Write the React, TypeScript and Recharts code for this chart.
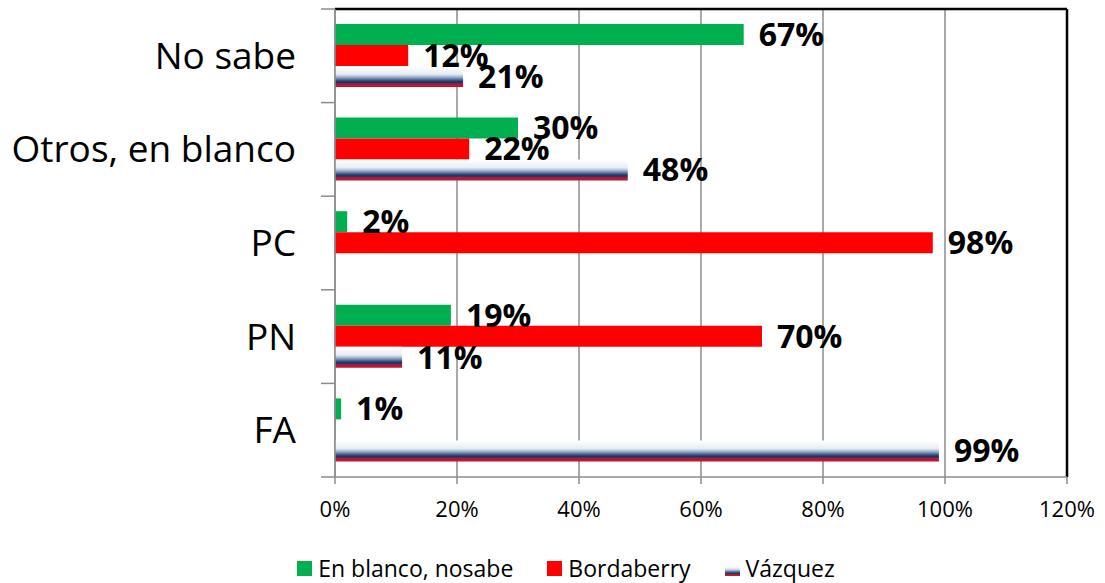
import React from "react";
import {
  BarChart, Bar, XAxis, YAxis, CartesianGrid, LabelList, Legend, ReferenceLine,
} from "recharts";

// categories top to bottom, as in the poll table
const categories = ["No sabe", "Otros, en blanco", "PC", "PN", "FA"];
const enBlanco = [67, 30, 2, 19, 1];
const bordaberry = [12, 22, 98, 70, 0];
const vazquez = [21, 48, 0, 11, 99];
const xTicks = [0, 20, 40, 60, 80, 100, 120];

const series = [
  { key: "blanco", name: "En blanco, nosabe", fill: "#00b050" },
  { key: "bordaberry", name: "Bordaberry", fill: "#ff0000" },
  { key: "vazquez", name: "Vázquez", fill: "url(#vzGrad)" },
];

const data = categories.map((c, i) => ({
  cat: c,
  blanco: enBlanco[i],
  bordaberry: bordaberry[i],
  vazquez: vazquez[i],
}));

const FONT = "'Open Sans', 'Liberation Sans', sans-serif";
const AXIS_GRAY = "#8c8c8c";
const LABEL_GAP = 39;
const pct = (v: any) => (v ? `${v}%` : "");

// category tick: label plus Excel-style tick marks on the band edges
function CatTick(props: any) {
  const { x, y, payload, index, visibleTicksCount } = props;
  const half = payload.offset ?? 0;
  const ax = x + LABEL_GAP;
  return (
    <g>
      <line x1={ax - 14} x2={ax} y1={y - half} y2={y - half} stroke={AXIS_GRAY} strokeWidth={1.5} />
      {index === visibleTicksCount - 1 && (
        <line x1={ax - 14} x2={ax} y1={y + half} y2={y + half} stroke={AXIS_GRAY} strokeWidth={1.5} />
      )}
      <text x={x} y={y} dy="0.35em" textAnchor="end" fill="#000" fontSize={37} fontFamily={FONT}>
        {payload.value}
      </text>
    </g>
  );
}

function VzSwatch({ w, h }: { w: number; h: number }) {
  return (
    <svg width={w} height={h} style={{ display: "block" }}>
      <defs>
        <linearGradient id="vzLeg" x1="0" y1="0" x2="0" y2="1">
          <stop offset="0" stopColor="#ffffff" />
          <stop offset="0.3" stopColor="#c9d4e4" />
          <stop offset="0.55" stopColor="#4d6794" />
          <stop offset="0.72" stopColor="#1f3466" />
          <stop offset="0.82" stopColor="#b0203a" />
          <stop offset="1" stopColor="#c8102e" />
        </linearGradient>
      </defs>
      <rect width={w} height={h} fill="url(#vzLeg)" />
    </svg>
  );
}

function LegendBox() {
  return (
    <div style={{ display: "flex", justifyContent: "center", alignItems: "center", height: 30, fontFamily: FONT, fontSize: 23, color: "#000", paddingLeft: 65 }}>
      {series.map((s, i) => (
        <div key={s.key} style={{ display: "flex", alignItems: "center", marginLeft: i ? 34 : 0 }}>
          {s.key === "vazquez" ? (
            <div style={{ height: 15, display: "flex", alignItems: "flex-end" }}><VzSwatch w={15} h={9} /></div>
          ) : (
            <div style={{ width: 15, height: 15, background: s.fill }} />
          )}
          <span style={{ marginLeft: 6 }}>{s.name}</span>
        </div>
      ))}
    </div>
  );
}

export default function App() {
  return (
    <div style={{ position: "absolute", left: 0, top: 0, background: "#fff" }}>
      <BarChart
        width={1105}
        height={583}
        data={data}
        layout="vertical"
        margin={{ top: 9, right: 38, left: 0, bottom: 0 }}
        barGap={0}
        barSize={21}
      >
        <defs>
          <linearGradient id="vzGrad" x1="0" y1="0" x2="0" y2="1">
            <stop offset="0" stopColor="#ffffff" />
            <stop offset="0.38" stopColor="#e8edf4" />
            <stop offset="0.48" stopColor="#b9c8dc" />
            <stop offset="0.6" stopColor="#7089b2" />
            <stop offset="0.7" stopColor="#2f4a7c" />
            <stop offset="0.78" stopColor="#1c2f60" />
            <stop offset="0.85" stopColor="#9a2043" />
            <stop offset="1" stopColor="#d0102a" />
          </linearGradient>
        </defs>
        <CartesianGrid horizontal={false} stroke={AXIS_GRAY} strokeWidth={1.5} />
        {/* plot-area top border */}
        <CartesianGrid
          vertical={false}
          stroke="#000"
          strokeWidth={2.5}
          horizontalCoordinatesGenerator={({ offset }: any) => [offset.top]}
        />
        <XAxis
          type="number"
          domain={[0, 120]}
          ticks={xTicks}
          interval={0}
          tickFormatter={(v) => `${v}%`}
          height={76}
          tickSize={7}
          tickMargin={17}
          axisLine={{ stroke: AXIS_GRAY, strokeWidth: 1.5 }}
          tickLine={{ stroke: AXIS_GRAY, strokeWidth: 1.5 }}
          tick={{ fill: "#000", fontSize: 22, fontFamily: FONT }}
        />
        <YAxis
          type="category"
          dataKey="cat"
          width={335}
          axisLine={{ stroke: AXIS_GRAY, strokeWidth: 1.5 }}
          tickLine={false}
          tickSize={0}
          tickMargin={LABEL_GAP}
          interval={0}
          tick={<CatTick />}
        />
        <ReferenceLine x={120} stroke="#000" strokeWidth={2.5} />
        <Legend verticalAlign="bottom" height={30} content={() => <LegendBox />} />
        {series.map((s) => (
          <Bar key={s.key} dataKey={s.key} name={s.name} fill={s.fill} isAnimationActive={false}>
            <LabelList
              dataKey={s.key}
              position="right"
              offset={15}
              formatter={pct}
              style={{ fill: "#000", fontSize: 32, fontWeight: 700, fontFamily: FONT }}
            />
          </Bar>
        ))}
      </BarChart>
    </div>
  );
}
